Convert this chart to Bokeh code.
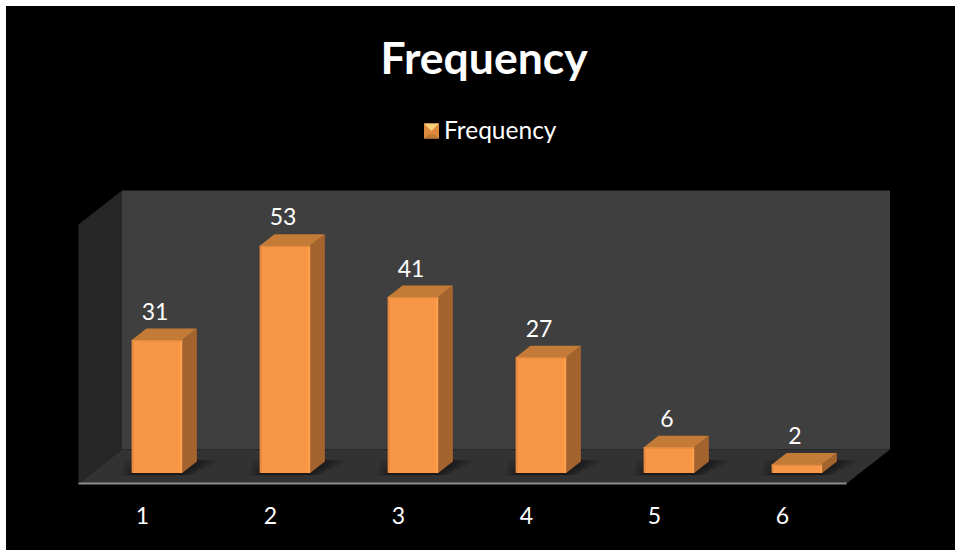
from bokeh.embed import file_html
from bokeh.models import ColumnDataSource, FixedTicker, Legend, LegendItem, LinearAxis, Range1d, Title
from bokeh.core.properties import value
from bokeh.plotting import figure
from bokeh.resources import INLINE

# Chart content
CATEGORIES = [1, 2, 3, 4, 5, 6]
FREQUENCY = [31, 53, 41, 27, 6, 2]
TITLE = "Frequency"
SERIES = "Frequency"

# Pseudo-3D box in data units (x: category, y: frequency)
PX_X = 128.0            # pixels per category
PX_Y = 4.29             # pixels per frequency unit
HALF_W = 25.2 / PX_X
SHIFT = 14.5 / PX_X     # bar fronts sit behind the axis line
DX = 14.7 / PX_X        # oblique depth of a bar
DY = 11.5 / PX_Y
BOX_LEFT, BOX_RIGHT = 0.5, 6.5
BACK_DX = 43.5 / PX_X
FLOOR_FRONT = -10.5 / PX_Y
FLOOR_BACK = 23.5 / PX_Y
WALL_TOP = 282.5 / PX_Y
LEFT_TOP = 248.5 / PX_Y

FONT = "Lato"
ORANGE = "#f79646"

W, H = 949, 544
x0 = 1 + (6 - 142) / PX_X
x1 = x0 + W / PX_X
y_top = FLOOR_FRONT + (483 - 90) / PX_Y

p = figure(
    width=W, height=H, output_backend="svg", toolbar_location=None,
    x_range=Range1d(x0, x1), y_range=Range1d(FLOOR_FRONT, y_top),
    x_axis_location=None, y_axis_location=None,
    min_border_left=0, min_border_right=0, min_border_top=84, min_border_bottom=67,
    background_fill_color="black", border_fill_color=None, outline_line_color=None,
)
p.margin = (6, 0, 0, 6)
p.styles = {"background-color": "black"}
p.grid.visible = False

p.title = Title(
    text=TITLE, align="left", text_color="white", text_font=FONT,
    text_font_size="44.5px", text_font_style="bold", standoff=15, offset=374,
)

# Room: back wall, left wall and floor
p.patch([BOX_LEFT + BACK_DX, BOX_RIGHT + BACK_DX, BOX_RIGHT + BACK_DX, BOX_LEFT + BACK_DX],
        [FLOOR_BACK, FLOOR_BACK, WALL_TOP, WALL_TOP], color="#3f3f3f", line_width=0)
p.patch([BOX_LEFT, BOX_LEFT + BACK_DX, BOX_LEFT + BACK_DX, BOX_LEFT],
        [FLOOR_FRONT, FLOOR_BACK, WALL_TOP, LEFT_TOP], color="#272727", line_width=0)
p.patch([BOX_LEFT, BOX_LEFT + BACK_DX, BOX_RIGHT + BACK_DX, BOX_RIGHT],
        [FLOOR_FRONT, FLOOR_BACK, FLOOR_BACK, FLOOR_FRONT], color="#323232", line_width=0)

# Soft shadow on the floor below each bar, built from stacked translucent shapes
for k in range(6):
    grow = (5 - k) * 0.035
    xs, ys = [], []
    for c in CATEGORIES:
        cx = c + SHIFT
        xs.append([cx - HALF_W - grow * 0.9 + DX, cx + HALF_W + DX * 1.1 + grow,
                   cx + HALF_W + grow * 0.4, cx - HALF_W - grow * 0.5])
        ys.append([DY + 0.3, DY + 0.3, -0.5, -0.5])
    p.patches(xs, ys, fill_color="black", fill_alpha=0.09, line_width=0)

left = [c + SHIFT - HALF_W for c in CATEGORIES]
right = [c + SHIFT + HALF_W for c in CATEGORIES]

# Side and top faces of the bars
p.patches([[r, r + DX, r + DX, r] for r in right],
          [[0, DY, v + DY, v] for v in FREQUENCY],
          fill_color="#a3632d", line_width=0)
p.patches([[l, l + DX, r + DX, r] for l, r in zip(left, right)],
          [[v, v + DY, v + DY, v] for v in FREQUENCY],
          fill_color="#c47b38", line_width=0)

# Front faces
src = ColumnDataSource(dict(left=left, right=right, top=FREQUENCY, bottom=[0] * len(FREQUENCY)))
p.quad(left="left", right="right", top="top", bottom="bottom", source=src,
       fill_color=ORANGE, line_width=0)

# Bevelled edges of the front faces
edge = 2.0 / PX_X
p.quad(left=left, right=[l + edge for l in left], top=FREQUENCY, bottom=[0] * 6,
       fill_color="#e68a3f", line_width=0)
p.quad(left=[r - edge for r in right], right=right, top=FREQUENCY, bottom=[0] * 6,
       fill_color="#ffa24f", line_width=0)
p.quad(left=left, right=right, top=FREQUENCY, bottom=[v - 1.5 / PX_Y for v in FREQUENCY],
       fill_color="#e58b40", line_width=0)

# Value labels above each bar
p.text(
    x=[c + 12.5 / PX_X for c in CATEGORIES],
    y=[v + 29 / PX_Y for v in FREQUENCY],
    text=[str(v) for v in FREQUENCY],
    text_color="white", text_font=value(FONT), text_font_size="23px",
    text_align="center", text_baseline="alphabetic",
)

# Category axis along the front edge of the floor
axis = LinearAxis(
    ticker=FixedTicker(ticks=CATEGORIES), bounds=(BOX_LEFT, BOX_RIGHT),
    axis_line_color="#8c8c8c", axis_line_width=2,
    major_tick_line_color=None, minor_tick_line_color=None,
    major_label_text_color="white", major_label_text_font=FONT,
    major_label_text_font_size="23px", major_label_standoff=17,
)
p.add_layout(axis, "below")

# Legend entry: the key itself is drawn as a shaded pyramid below
key_slot = p.quad(left=[], right=[], top=[], bottom=[], fill_alpha=0, line_alpha=0)
legend = Legend(
    items=[LegendItem(label=SERIES, renderers=[key_slot])],
    location=(415, 339), orientation="horizontal",
    background_fill_alpha=0, border_line_color=None, padding=0, margin=0, spacing=0,
    glyph_width=19, glyph_height=19, label_standoff=4,
    label_text_color="white", label_text_font=FONT, label_text_font_size="24.5px",
)
p.add_layout(legend, "center")

# Pyramid shading of the legend key
kx = 1 + (431 - 142) / PX_X
ky = (472.5 - 130.5) / PX_Y
hx, hy = 7.5 / PX_X, 7.5 / PX_Y
ix, iy = 3.5 / PX_X, 3.5 / PX_Y
p.patch([kx - hx, kx + hx, kx + hx, kx - hx], [ky - hy, ky - hy, ky + hy, ky + hy],
        color="#dd8a3c", line_width=0)
p.patch([kx - hx, kx + hx, kx], [ky + hy, ky + hy, ky], color="#f9d07a", line_width=0)
p.patch([kx - hx, kx + hx, kx + ix, kx - ix], [ky - hy, ky - hy, ky - iy, ky - iy],
        color="#c07a35", line_width=0)

open("out.html", "w").write(file_html(p, INLINE))
